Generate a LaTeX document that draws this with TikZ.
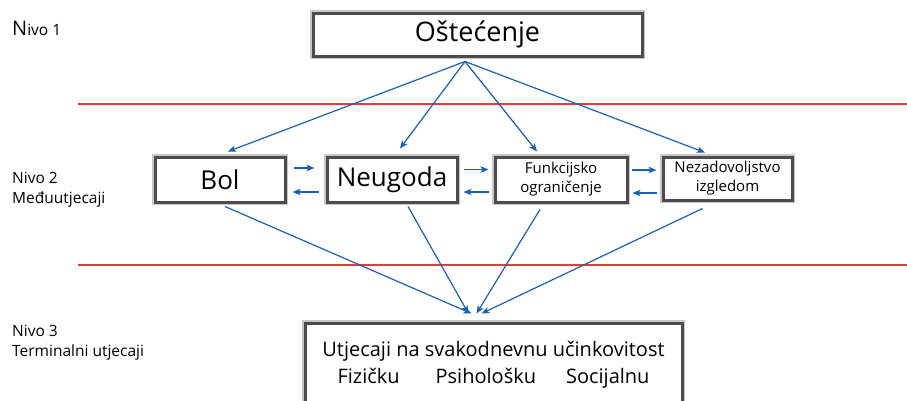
\documentclass[tikz,border=0pt]{standalone}
\usepackage{fontspec}
\setmainfont{Open Sans}
\usetikzlibrary{arrows.meta}
\definecolor{linkblue}{RGB}{28,96,178}
\definecolor{levelred}{RGB}{232,58,58}

\begin{document}
\begin{tikzpicture}[x=1pt,y=-1pt,>={Stealth[length=8pt,width=6.5pt,inset=2pt]},
  box/.style={draw=black!70,line width=3pt,fill=white,inner sep=0pt,align=center,
    preaction={draw=black!22,line width=6.5pt}},
  lvl/.style={anchor=west,align=left,inner sep=0pt,font=\fontsize{15.5}{20}\selectfont},
  link/.style={color=linkblue,line width=1.2pt}]
\useasboundingbox (0,0) rectangle (907,400);
% level borders
  \draw[levelred,line width=1.4pt] (78,104) -- (907,104);
  \draw[levelred,line width=1.4pt] (78,265) -- (907,265);

% define the level labels
  \node[lvl] (n1) at (12,28) {{\fontsize{20}{20}\selectfont N}ivo 1};
  \node[lvl] (n2) at (12,190) {Nivo 2\\ Međuutjecaji};
  \node[lvl] (n3) at (12,343) {Nivo 3\\ Terminalni utjecaji};

% define the boxes
  \node[box,minimum width=329pt,minimum height=43pt,font=\fontsize{27}{27}\selectfont] (ost) at (477.5,34.5) {Oštećenje};
  \node[box,minimum width=130pt,minimum height=45pt,font=\fontsize{26}{26}\selectfont] (bol) at (220,179.5) {Bol};
  \node[box,minimum width=130pt,minimum height=45pt,font=\fontsize{26}{26}\selectfont] (neu) at (392,179.5) {Neugoda};
  \node[box,minimum width=132pt,minimum height=45pt,font=\fontsize{15}{19}\selectfont] (fun) at (561,179.5) {Funkcijsko\\ ograničenje};
  \node[box,minimum width=129pt,minimum height=43pt,font=\fontsize{15}{19}\selectfont] (nez) at (727.5,178.5) {Nezadovoljstvo\\ izgledom};
  \node[box,minimum width=377pt,minimum height=84pt,font=\fontsize{20}{27}\selectfont] (utj) at (493.5,365)
    {Utjecaji na svakodnevnu učinkovitost\\ Fizičku\hspace{36pt}Psihološku\hspace{30pt}Socijalnu};

% define the links
  \path[->,link] ([xshift=-12.5pt,yshift=-4pt]ost.south)
        edge ([xshift=8pt,yshift=4pt]bol.north)
        edge ([xshift=8pt,yshift=7pt]neu.north)
        edge ([xshift=-24pt,yshift=4pt]fun.north)
        edge ([xshift=-22.5pt,yshift=3pt]nez.north);
  \path[->,link] ([xshift=5pt,yshift=-3pt]bol.south) edge ([xshift=-22pt,yshift=8pt]utj.north)
        ([xshift=16pt,yshift=-3pt]neu.south) edge ([xshift=-25pt,yshift=8pt]utj.north)
        ([xshift=-21pt,yshift=-6pt]fun.south) edge ([xshift=-17pt,yshift=8pt]utj.north)
        ([xshift=-25pt,yshift=-7pt]nez.south) edge ([xshift=-12pt,yshift=8pt]utj.north);
  \path[->,link] ([xshift=7pt,yshift=11.5pt]bol.east) edge ([xshift=-11pt,yshift=11.5pt]neu.west)
        ([xshift=-7pt,yshift=-12.5pt]neu.west) edge ([xshift=6pt,yshift=-12.5pt]bol.east)
        ([xshift=5pt,yshift=10pt]neu.east) edge ([xshift=-5pt,yshift=10pt]fun.west)
        ([xshift=-5pt,yshift=-12.5pt]fun.west) edge ([xshift=5pt,yshift=-12.5pt]neu.east)
        ([xshift=3pt,yshift=9.5pt]fun.east) edge ([xshift=-5pt,yshift=8.5pt]nez.west)
        ([xshift=-5pt,yshift=-14.5pt]nez.west) edge ([xshift=4pt,yshift=-13.5pt]fun.east);
\end{tikzpicture}
\end{document}
